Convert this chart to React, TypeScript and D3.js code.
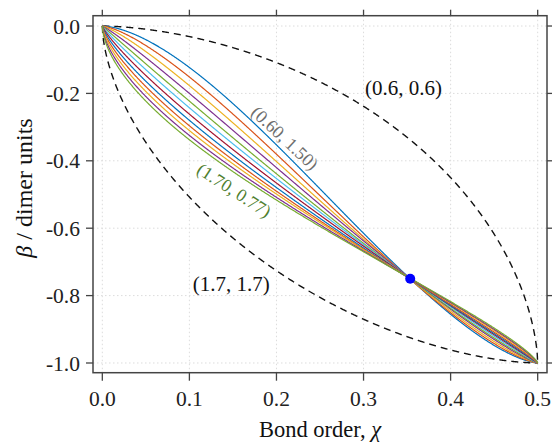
import React from "react";
import * as d3 from "d3";

const curveA = [0.6, 0.7, 0.8, 0.9, 1.0, 1.1, 1.2, 1.3, 1.4, 1.5, 1.6, 1.7];
const curveB = [1.5, 1.39, 1.29, 1.2, 1.13, 1.06, 1.0, 0.95, 0.9, 0.85, 0.81, 0.77];
const boundA = [0.6, 1.7];
const boundB = [0.6, 1.7];
const palette = ["#0072BD", "#D95319", "#EDB120", "#7E2F8E", "#77AC30", "#4DBEEE", "#A2142F"];
const xTicks = [0, 0.1, 0.2, 0.3, 0.4, 0.5];
const yTicks = [0, -0.2, -0.4, -0.6, -0.8, -1.0];
const crossChi = [0.3536];
const crossBeta = [-0.75];

const W = 552, H = 443;
const FONT = "'Liberation Serif', 'Times New Roman', serif";

const xScale = d3.scaleLinear().domain([-0.0107, 0.5107]).range([93, 547]);
const yScale = d3.scaleLinear().domain([0.0306, -1.0288]).range([15.7, 372.7]);

const uSamples = d3.range(0, 1.00001, 0.001);
function curvePoints(a: number, b: number) {
  return uSamples.map((u) => {
    const v = Math.pow(Math.max(0, 1 - Math.pow(Math.max(0, 1 - u), b)), 1 / a);
    return { chi: u / 2, beta: -v };
  });
}
const line = d3
  .line<{ chi: number; beta: number }>()
  .x((d) => xScale(d.chi))
  .y((d) => yScale(d.beta));

export default function App() {
  const x0 = 93, x1 = 547, y0 = 15.7, y1 = 372.7;
  const fmt = (t: number) => d3.format(".1f")(t).replace("\u2212", "-");
  return (
    <svg
      width={W}
      height={H}
      style={{ position: "absolute", left: 0, top: 0, background: "#fff" }}
      fontFamily={FONT}
    >
      <rect x={0} y={0} width={W} height={H} fill="#fff" />
      {/* grid */}
      {xTicks.map((t) => (
        <line key={"gx" + t} x1={xScale(t)} x2={xScale(t)} y1={y0} y2={y1} stroke="#dcdcdc" strokeWidth={1} strokeDasharray="1.5,2.5" />
      ))}
      {yTicks.map((t) => (
        <line key={"gy" + t} y1={yScale(t)} y2={yScale(t)} x1={x0} x2={x1} stroke="#dcdcdc" strokeWidth={1} strokeDasharray="1.5,2.5" />
      ))}
      {/* bounding dashed curves */}
      {boundA.map((a, i) => (
        <path key={"b" + i} d={line(curvePoints(a, boundB[i])) || ""} fill="none" stroke="#111" strokeWidth={1.4} strokeDasharray="7,5" />
      ))}
      {/* colored curves */}
      {curveA.map((a, i) => (
        <path key={"c" + i} d={line(curvePoints(a, curveB[i])) || ""} fill="none" stroke={palette[i % palette.length]} strokeWidth={1.2} />
      ))}
      {/* crossing point */}
      {crossChi.map((c, i) => (
        <circle key={"p" + i} cx={xScale(c)} cy={yScale(crossBeta[i])} r={5} fill="#0000ff" />
      ))}
      {/* labels */}
      <text x={xScale(0.3016)} y={yScale(-0.205)} fontSize={21} fill="#111">(0.6, 0.6)</text>
      <text x={xScale(0.104)} y={yScale(-0.786)} fontSize={21} fill="#111">(1.7, 1.7)</text>
      <text
        transform={`translate(${xScale(0.2098)},${yScale(-0.332)}) rotate(43)`}
        textAnchor="middle"
        dy="0.35em"
        fontSize={18}
        fill="#6e6e6e"
      >
        (0.60, 1.50)
      </text>
      <text
        transform={`translate(${xScale(0.1514)},${yScale(-0.487)}) rotate(33)`}
        textAnchor="middle"
        dy="0.35em"
        fontSize={18}
        fill="#4f8030"
      >
        (1.70, 0.77)
      </text>
      {/* frame */}
      <rect x={x0} y={y0} width={x1 - x0} height={y1 - y0} fill="none" stroke="#444" strokeWidth={1.5} />
      {/* ticks */}
      {xTicks.map((t) => (
        <g key={"tx" + t}>
          <line x1={xScale(t)} x2={xScale(t)} y1={y1} y2={y1 + 8} stroke="#444" strokeWidth={1.3} />
          <line x1={xScale(t)} x2={xScale(t)} y1={y0} y2={y0 - 6} stroke="#444" strokeWidth={1.3} />
          <text x={xScale(t)} y={406} textAnchor="middle" fontSize={21.5} fill="#222">{fmt(t)}</text>
        </g>
      ))}
      {yTicks.map((t) => (
        <g key={"ty" + t}>
          <line y1={yScale(t)} y2={yScale(t)} x1={x0} x2={x0 - 7} stroke="#444" strokeWidth={1.3} />
          <line y1={yScale(t)} y2={yScale(t)} x1={x1} x2={x1 + 7} stroke="#444" strokeWidth={1.3} />
          <text x={80} y={yScale(t)} dy="0.35em" textAnchor="end" fontSize={21.5} fill="#222">{fmt(t)}</text>
        </g>
      ))}
      {/* axis titles */}
      <text x={(x0 + x1) / 2} y={437} textAnchor="middle" fontSize={22.5} fill="#111">
        Bond order, <tspan fontStyle="italic">χ</tspan>
      </text>
      <text transform={`translate(32,${188}) rotate(-90)`} textAnchor="middle" fontSize={24} fill="#111">
        <tspan fontStyle="italic">β</tspan> / dimer units
      </text>
    </svg>
  );
}
